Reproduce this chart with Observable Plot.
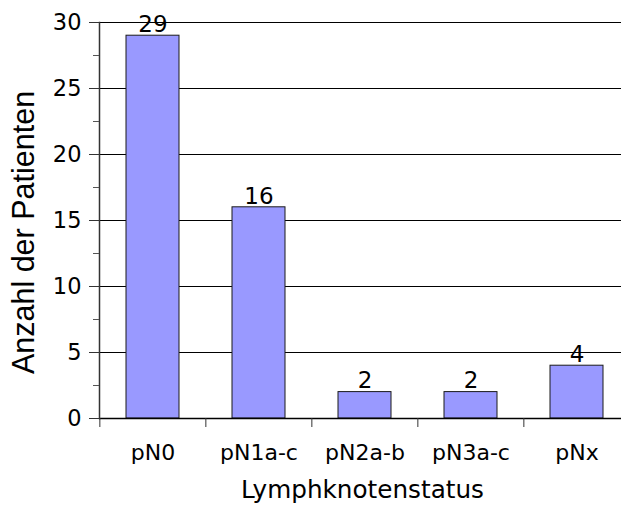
<!DOCTYPE html>
<html>
<head>
<meta charset="utf-8">
<script src="https://cdn.jsdelivr.net/npm/d3@7"></script>
<script src="https://cdn.jsdelivr.net/npm/@observablehq/plot@0.6"></script>
<style>
  html, body { margin: 0; padding: 0; background: #fff; overflow: hidden; }
  #chart svg { overflow: hidden; }
</style>
</head>
<body>
<div id="chart"></div>
<script>
const categories = ["pN0", "pN1a-c", "pN2a-b", "pN3a-c", "pNx"];
const counts = [29, 16, 2, 2, 4];
const majorTicks = [0, 5, 10, 15, 20, 25, 30];
const minorTicks = [2.5, 7.5, 12.5, 17.5, 22.5, 27.5];
const gridTicks = [5, 10, 15, 20, 25, 30];
const yTitle = "Anzahl der Patienten";
const xTitle = "Lymphknotenstatus";

const data = categories.map((c, i) => ({cat: c, n: counts[i]}));

const W = 621, H = 509;
const xRange = [99, 630.5];
const step = (xRange[1] - xRange[0]) / categories.length;

const chart = Plot.plot({
  width: W,
  height: H,
  marginTop: 22,
  marginBottom: 91,
  marginLeft: 99,
  marginRight: 0,
  style: {fontFamily: "DejaVu Sans", fontSize: "22px", background: "#fff", color: "#000"},
  x: {type: "band", domain: categories, range: xRange, paddingInner: 0.5, paddingOuter: 0.25},
  y: {domain: [0, 30]},
  marks: [
    Plot.gridY(gridTicks, {stroke: "#000", strokeOpacity: 1, strokeWidth: 1}),
    Plot.barY(data, {x: "cat", y: "n", fill: "#9999ff", stroke: "#1a1a1a", strokeWidth: 1}),
    Plot.text(data, {x: "cat", y: "n", text: d => String(d.n), dy: -11, fontSize: 23, fill: "#000"}),
    Plot.ruleY([0], {stroke: "#000", strokeWidth: 1.5}),
    Plot.frame({anchor: "left", stroke: "#333", strokeWidth: 1.5}),
    Plot.axisY(majorTicks, {tickSize: 10, tickPadding: 8, stroke: "#333", label: null, fontSize: 22.5, fill: "#000"}),
    Plot.axisY(minorTicks, {tickSize: 6, text: null, stroke: "#555", label: null}),
    Plot.axisX({tickSize: 9, text: null, dx: -step / 2, stroke: "#333", label: null}),
    Plot.axisX({tickSize: 0, tickPadding: 26, label: null, fontSize: 22, fill: "#000"}),
    Plot.text([yTitle], {frameAnchor: "left", textAnchor: "middle", lineAnchor: "middle", rotate: -90, dx: -75, dy: 12, fontSize: 30.5, fontFamily: "Liberation Sans", fill: "#000"}),
    Plot.text([xTitle], {frameAnchor: "bottom", textAnchor: "middle", lineAnchor: "middle", dy: 72, dx: 2, fontSize: 24.7, fontFamily: "DejaVu Sans", fill: "#000"})
  ]
});
document.getElementById("chart").appendChild(chart);
</script>
</body>
</html>
